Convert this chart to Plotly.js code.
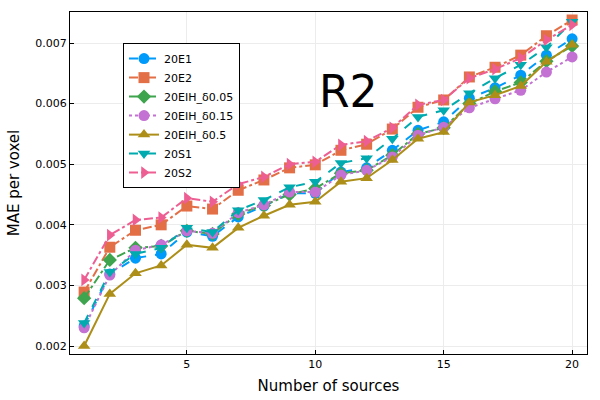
<!DOCTYPE html>
<html>
<head>
<meta charset="utf-8">
<script src="https://cdn.plot.ly/plotly-3.0.1.min.js"></script>
<style>body{margin:0;}#myDiv{width:600px;height:400px;}</style>
</head>
<body>
<div id="myDiv"></div>
<script>
// number of sources
var sources = [1, 2, 3, 4, 5, 6, 7, 8, 9, 10, 11, 12, 13, 14, 15, 16, 17, 18, 19, 20];

var e1 = [0.00233, 0.00319, 0.00345, 0.00352, 0.00388, 0.00381, 0.00413, 0.00431, 0.00452, 0.00452,
          0.00487, 0.00494, 0.00523, 0.00556, 0.00570, 0.00609, 0.00626, 0.00647, 0.00680, 0.00707];
var e2 = [0.00289, 0.00363, 0.00391, 0.00400, 0.00431, 0.00426, 0.00457, 0.00474, 0.00494, 0.00499,
          0.00523, 0.00533, 0.00558, 0.00594, 0.00606, 0.00644, 0.00660, 0.00680, 0.00712, 0.00738];
var eih005 = [0.00279, 0.00342, 0.00362, 0.00365, 0.00390, 0.00385, 0.00418, 0.00432, 0.00450, 0.00460,
              0.00485, 0.00490, 0.00515, 0.00550, 0.00560, 0.00600, 0.00620, 0.00635, 0.00670, 0.00695];
var eih015 = [0.00230, 0.00317, 0.00358, 0.00367, 0.00390, 0.00386, 0.00420, 0.00433, 0.00454, 0.00454,
              0.00482, 0.00490, 0.00512, 0.00548, 0.00561, 0.00593, 0.00608, 0.00622, 0.00652, 0.00677];
var eih05 = [0.00200, 0.00286, 0.00320, 0.00333, 0.00367, 0.00362, 0.00395, 0.00415, 0.00433, 0.00438,
             0.00471, 0.00477, 0.00507, 0.00542, 0.00553, 0.00602, 0.00614, 0.00629, 0.00669, 0.00697];
var s1 = [0.00238, 0.00322, 0.00352, 0.00362, 0.00395, 0.00388, 0.00424, 0.00441, 0.00462, 0.00471,
          0.00502, 0.00510, 0.00542, 0.00578, 0.00589, 0.00617, 0.00642, 0.00664, 0.00693, 0.00735];
var s2 = [0.00309, 0.00383, 0.00408, 0.00412, 0.00444, 0.00438, 0.00467, 0.00479, 0.00500, 0.00504,
          0.00532, 0.00538, 0.00560, 0.00598, 0.00606, 0.00642, 0.00657, 0.00675, 0.00705, 0.00730];

var names = ['20E1', '20E2', '20EIH_δ0.05', '20EIH_δ0.15', '20EIH_δ0.5', '20S1', '20S2'];
var series = [e1, e2, eih005, eih015, eih05, s1, s2];
var colors = ['#009AFA', '#E36F47', '#3EA44E', '#C371D2', '#AC8E18', '#00AAAE', '#ED5E93'];
var symbols = ['circle', 'square', 'diamond', 'circle', 'triangle-up', 'triangle-down', 'triangle-right'];
var dashes = ['dash', 'dashdot', 'dashdot', 'dot', 'solid', 'dash', 'dashdot'];

var data = [];
for (var i = 0; i < series.length; i++) {
    data.push({
        x: sources,
        y: series[i],
        name: names[i],
        mode: 'lines+markers',
        type: 'scatter',
        line: {color: colors[i], width: 2, dash: dashes[i]},
        marker: {color: colors[i], symbol: symbols[i], size: 11}
    });
}

var axisStyle = {
    showline: true,
    linecolor: '#000',
    linewidth: 1,
    mirror: true,
    showgrid: true,
    gridcolor: '#ececec',
    zeroline: false,
    ticks: 'inside',
    ticklen: 4,
    tickcolor: '#000',
    tickfont: {size: 11, color: '#000'}
};

var layout = {
    width: 600,
    height: 400,
    margin: {l: 70, r: 13, t: 12, b: 46},
    paper_bgcolor: '#fff',
    plot_bgcolor: '#fff',
    font: {family: 'DejaVu Sans', color: '#000'},
    xaxis: Object.assign({}, axisStyle, {
        range: [0.45, 20.58],
        tickvals: [5, 10, 15, 20],
        title: {text: 'Number of sources', font: {size: 15}, standoff: 10}
    }),
    yaxis: Object.assign({}, axisStyle, {
        range: [0.001868, 0.007512],
        tickvals: [0.002, 0.003, 0.004, 0.005, 0.006, 0.007],
        ticktext: ['0.002', '0.003', '0.004', '0.005', '0.006', '0.007'],
        title: {text: 'MAE per voxel', font: {size: 15}, standoff: 12}
    }),
    legend: {
        x: 0.1025, y: 0.909,
        xanchor: 'left', yanchor: 'top',
        bgcolor: '#fff',
        bordercolor: '#000',
        borderwidth: 1,
        font: {size: 11},
        tracegroupgap: 0,
        itemwidth: 30
    },
    annotations: [{
        x: 11.3, y: 0.0062,
        xref: 'x', yref: 'y',
        text: 'R2',
        showarrow: false,
        font: {size: 44, color: '#000'}
    }]
};

Plotly.newPlot('myDiv', data, layout, {displayModeBar: false});
</script>
</body>
</html>
